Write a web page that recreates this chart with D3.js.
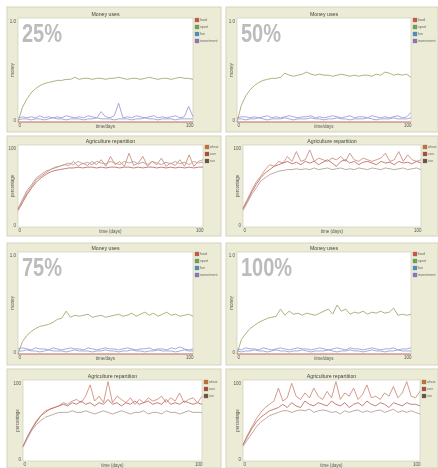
<!DOCTYPE html>
<html><head><meta charset="utf-8">
<script src="https://cdn.jsdelivr.net/npm/d3@7"></script>
<style>
html,body{margin:0;padding:0;background:#fff;}
svg{display:block;filter:blur(0.45px);}
text{font-family:"Liberation Sans",Arial,sans-serif;}
</style></head>
<body>
<svg id="c" width="438" height="468"></svg>
<script>
// ---------- data ----------
const moneyLegend = ["food","sport","fun","investment"];
const agriLegend = ["wheat","corn","rice"];
const moneyTicksY = ["1.0","0"];
const agriTicksY = ["100","0"];
const ticksX = ["0","100"];

const m25_red    = [0,0,0,0,0,0,0,0,0,0,0,0,0,0,0,0,0,0,0,0,0,0,0,0,0,0,0,0,0,0,0,0,0,0,0,0,0,0,0,0,0];
const m25_green  = [0,0.14,0.22,0.28,0.32,0.35,0.37,0.38,0.39,0.4,0.4,0.41,0.41,0.43,0.41,0.42,0.42,0.41,0.42,0.42,0.41,0.42,0.42,0.43,0.42,0.41,0.42,0.42,0.41,0.42,0.43,0.42,0.41,0.42,0.42,0.41,0.42,0.43,0.42,0.42,0.41];
const m25_blue   = [0.02,0.03,0.03,0.02,0.03,0.03,0.02,0.03,0.04,0.03,0.03,0.02,0.03,0.03,0.03,0.02,0.03,0.03,0.04,0.03,0.03,0.03,0.02,0.03,0.03,0.03,0.02,0.03,0.03,0.04,0.03,0.03,0.02,0.03,0.03,0.03,0.02,0.03,0.03,0.03,0.03];
const m25_purple = [0.04,0.05,0.04,0.05,0.04,0.06,0.04,0.05,0.04,0.05,0.04,0.06,0.05,0.04,0.05,0.04,0.06,0.05,0.04,0.1,0.05,0.04,0.06,0.18,0.04,0.05,0.04,0.06,0.05,0.04,0.05,0.06,0.04,0.05,0.04,0.05,0.06,0.04,0.05,0.15,0.05];

const m50_red    = [0,0,0,0,0,0,0,0,0,0,0,0,0,0,0,0,0,0,0,0,0,0,0,0,0,0,0,0,0,0,0,0,0,0,0,0,0,0,0,0,0];
const m50_green  = [0,0.16,0.25,0.31,0.35,0.38,0.4,0.41,0.42,0.42,0.43,0.47,0.45,0.44,0.45,0.46,0.48,0.46,0.45,0.46,0.45,0.45,0.44,0.45,0.46,0.45,0.44,0.45,0.44,0.45,0.45,0.44,0.46,0.45,0.48,0.47,0.45,0.46,0.45,0.46,0.43];
const m50_blue   = [0.03,0.03,0.02,0.03,0.03,0.04,0.03,0.02,0.03,0.03,0.03,0.04,0.03,0.02,0.03,0.03,0.03,0.04,0.03,0.03,0.02,0.03,0.03,0.04,0.03,0.03,0.02,0.03,0.03,0.03,0.04,0.03,0.02,0.03,0.03,0.03,0.04,0.03,0.03,0.03,0.04];
const m50_purple = [0.04,0.05,0.05,0.04,0.05,0.04,0.05,0.06,0.04,0.05,0.04,0.05,0.06,0.05,0.04,0.05,0.05,0.06,0.04,0.05,0.04,0.05,0.06,0.05,0.04,0.05,0.06,0.04,0.05,0.05,0.04,0.06,0.05,0.04,0.05,0.04,0.05,0.06,0.04,0.05,0.09];

const m75_red    = [0,0,0,0,0,0,0,0,0,0,0,0,0,0,0,0,0,0,0,0,0,0,0,0,0,0,0,0,0,0,0,0,0,0,0,0,0,0,0,0,0];
const m75_green  = [0,0.12,0.18,0.22,0.25,0.27,0.28,0.29,0.31,0.34,0.35,0.42,0.36,0.38,0.37,0.38,0.39,0.36,0.37,0.38,0.36,0.37,0.38,0.39,0.37,0.38,0.4,0.37,0.39,0.41,0.38,0.4,0.37,0.39,0.41,0.38,0.39,0.37,0.38,0.39,0.37];
const m75_blue   = [0.03,0.03,0.04,0.03,0.03,0.02,0.03,0.04,0.03,0.03,0.03,0.02,0.03,0.04,0.03,0.03,0.03,0.02,0.03,0.03,0.04,0.03,0.03,0.02,0.03,0.03,0.04,0.03,0.03,0.02,0.03,0.03,0.04,0.03,0.03,0.03,0.02,0.03,0.04,0.03,0.03];
const m75_purple = [0.05,0.06,0.05,0.04,0.06,0.05,0.05,0.04,0.06,0.05,0.04,0.05,0.06,0.05,0.05,0.04,0.06,0.05,0.04,0.05,0.06,0.05,0.05,0.04,0.05,0.06,0.05,0.04,0.05,0.05,0.06,0.04,0.05,0.05,0.04,0.06,0.05,0.07,0.05,0.04,0.05];

const m100_red    = [0,0,0,0,0,0,0,0,0,0,0,0,0,0,0,0,0,0,0,0,0,0,0,0,0,0,0,0,0,0,0,0,0,0,0,0,0,0,0,0,0];
const m100_green  = [0,0.14,0.2,0.25,0.28,0.31,0.33,0.35,0.36,0.37,0.44,0.38,0.42,0.39,0.4,0.38,0.4,0.39,0.38,0.4,0.42,0.44,0.39,0.48,0.42,0.44,0.39,0.41,0.4,0.42,0.39,0.41,0.4,0.42,0.4,0.41,0.45,0.38,0.39,0.38,0.39];
const m100_blue   = [0.03,0.02,0.03,0.03,0.04,0.03,0.03,0.02,0.03,0.04,0.03,0.03,0.02,0.03,0.03,0.04,0.03,0.02,0.03,0.03,0.03,0.04,0.03,0.02,0.03,0.03,0.04,0.03,0.03,0.02,0.03,0.04,0.03,0.03,0.02,0.03,0.03,0.04,0.03,0.03,0.03];
const m100_purple = [0.05,0.04,0.06,0.05,0.05,0.04,0.06,0.05,0.04,0.05,0.06,0.05,0.04,0.05,0.06,0.05,0.05,0.04,0.05,0.06,0.05,0.04,0.05,0.06,0.05,0.04,0.06,0.05,0.05,0.04,0.05,0.06,0.05,0.04,0.05,0.05,0.06,0.04,0.05,0.05,0.06];

const a25_A = [0.22,0.32,0.42,0.5,0.58,0.62,0.66,0.7,0.72,0.74,0.76,0.75,0.8,0.74,0.78,0.75,0.8,0.76,0.82,0.74,0.86,0.76,0.8,0.74,0.9,0.75,0.78,0.86,0.74,0.8,0.76,0.84,0.74,0.78,0.75,0.82,0.74,0.88,0.74,0.8,0.82];
const a25_B = [0.2,0.3,0.4,0.48,0.55,0.6,0.64,0.67,0.69,0.7,0.71,0.72,0.72,0.73,0.72,0.73,0.73,0.72,0.73,0.72,0.73,0.73,0.72,0.73,0.73,0.72,0.73,0.72,0.73,0.73,0.72,0.73,0.72,0.73,0.72,0.73,0.72,0.73,0.72,0.73,0.73];
const a25_C = [0.22,0.34,0.45,0.52,0.6,0.64,0.68,0.7,0.73,0.74,0.76,0.78,0.76,0.8,0.77,0.79,0.76,0.8,0.78,0.77,0.8,0.78,0.76,0.8,0.78,0.8,0.77,0.79,0.76,0.8,0.78,0.76,0.79,0.77,0.8,0.77,0.79,0.76,0.8,0.78,0.79];

const a50_A = [0.23,0.34,0.45,0.55,0.62,0.7,0.76,0.74,0.8,0.78,0.86,0.8,0.92,0.8,0.82,0.94,0.8,0.84,0.82,0.8,0.84,0.82,0.86,0.8,0.9,0.82,0.8,0.84,0.82,0.8,0.82,0.84,0.9,0.8,0.82,0.92,0.8,0.88,0.82,0.8,0.82];
const a50_B = [0.22,0.32,0.43,0.52,0.6,0.66,0.7,0.74,0.76,0.78,0.8,0.77,0.79,0.76,0.8,0.78,0.8,0.76,0.79,0.82,0.78,0.74,0.8,0.82,0.78,0.8,0.76,0.79,0.8,0.78,0.76,0.8,0.78,0.79,0.76,0.8,0.78,0.79,0.77,0.8,0.78];
const a50_C = [0.2,0.3,0.4,0.48,0.56,0.6,0.64,0.66,0.68,0.69,0.7,0.7,0.71,0.7,0.71,0.7,0.72,0.7,0.71,0.72,0.7,0.71,0.72,0.7,0.71,0.7,0.72,0.71,0.7,0.72,0.71,0.7,0.72,0.71,0.7,0.71,0.72,0.7,0.71,0.72,0.7];

const a75_A = [0.18,0.3,0.4,0.5,0.56,0.62,0.64,0.66,0.68,0.72,0.7,0.74,0.76,0.72,0.8,0.94,0.74,0.8,0.72,0.98,0.72,0.8,0.76,0.72,0.78,0.7,0.76,0.72,0.78,0.74,0.76,0.8,0.72,0.78,0.74,0.84,0.72,0.76,0.78,0.72,0.8];
const a75_B = [0.18,0.3,0.4,0.48,0.56,0.6,0.64,0.66,0.68,0.7,0.68,0.72,0.7,0.74,0.7,0.72,0.68,0.72,0.7,0.76,0.7,0.72,0.68,0.72,0.7,0.74,0.7,0.72,0.74,0.7,0.72,0.7,0.76,0.7,0.72,0.7,0.74,0.72,0.7,0.72,0.7];
const a75_C = [0.17,0.28,0.38,0.45,0.5,0.54,0.56,0.58,0.6,0.6,0.6,0.62,0.6,0.6,0.62,0.6,0.58,0.6,0.62,0.6,0.58,0.6,0.62,0.6,0.58,0.6,0.6,0.62,0.58,0.6,0.6,0.58,0.62,0.6,0.6,0.58,0.6,0.62,0.6,0.6,0.6];

const a100_A = [0.2,0.32,0.42,0.52,0.6,0.66,0.7,0.74,0.9,0.74,0.78,0.96,0.8,0.76,0.84,0.78,0.9,0.8,0.76,0.86,0.78,0.98,0.76,0.84,0.8,0.9,0.76,0.82,0.94,0.78,0.8,0.76,0.84,0.8,0.92,0.78,0.84,0.98,0.8,0.78,0.86];
const a100_B = [0.2,0.3,0.4,0.48,0.54,0.58,0.62,0.64,0.66,0.7,0.66,0.72,0.68,0.66,0.74,0.7,0.68,0.72,0.7,0.68,0.74,0.7,0.68,0.72,0.66,0.7,0.72,0.68,0.74,0.7,0.68,0.72,0.7,0.66,0.72,0.7,0.68,0.72,0.7,0.7,0.68];
const a100_C = [0.18,0.26,0.34,0.42,0.48,0.52,0.56,0.58,0.6,0.62,0.62,0.6,0.62,0.63,0.62,0.64,0.6,0.62,0.63,0.62,0.6,0.61,0.58,0.62,0.6,0.62,0.63,0.6,0.62,0.6,0.62,0.63,0.6,0.62,0.64,0.6,0.62,0.6,0.62,0.6,0.58];

// ---------- styling / layout ----------
const moneyColors = ["#d06060","#a4aa72","#88a8d0","#a898d8"];
const moneySwatch = ["#d85040","#6aa84a","#4a90c8","#9070c8"];
const agriColors = ["#d09080","#c07068","#b8a098"];
const agriSwatch = ["#c87030","#b04838","#6a5040"];

const panels = [
  {kind:"money", label:"25%", x:7,   y:7,   w:214, h:125, m:{l:11,r:28,t:11,b:10}, series:[m25_red,m25_green,m25_blue,m25_purple]},
  {kind:"money", label:"50%", x:226, y:7,   w:212, h:125, m:{l:11,r:27,t:11,b:10}, series:[m50_red,m50_green,m50_blue,m50_purple]},
  {kind:"agri",  x:7,   y:136, w:214, h:100, m:{l:11,r:18,t:9,b:9}, series:[a25_A,a25_B,a25_C]},
  {kind:"agri",  x:226, y:136, w:212, h:100, m:{l:17,r:17,t:9,b:9}, series:[a50_A,a50_B,a50_C]},
  {kind:"money", label:"75%", x:7,   y:243, w:214, h:122, m:{l:11,r:28,t:9,b:11}, series:[m75_red,m75_green,m75_blue,m75_purple]},
  {kind:"money", label:"100%",x:226, y:243, w:212, h:122, m:{l:11,r:27,t:9,b:11}, series:[m100_red,m100_green,m100_blue,m100_purple]},
  {kind:"agri",  x:7,   y:369, w:214, h:99, m:{l:16,r:19,t:11,b:7}, series:[a75_A,a75_B,a75_C]},
  {kind:"agri",  x:226, y:369, w:212, h:99, m:{l:17,r:18,t:11,b:7}, series:[a100_A,a100_B,a100_C]}
];

const svg = d3.select("#c");
svg.append("rect").attr("width",438).attr("height",468).attr("fill","#ffffff");

panels.forEach(p => {
  const g = svg.append("g").attr("transform",`translate(${p.x},${p.y})`);
  g.append("rect").attr("width",p.w).attr("height",p.h)
    .attr("fill","#ecebd6").attr("stroke","#d4d3bc").attr("stroke-width",1);
  const pl = p.m.l, pr = p.w - p.m.r, pt = p.m.t, pb = p.h - p.m.b;
  const isMoney = p.kind === "money";
  const n = p.series[0].length;
  const x = d3.scaleLinear().domain([0, n-1]).range([pl, pr]);
  const y = d3.scaleLinear().domain([0, 1]).range([pb, pt]);

  g.append("rect").attr("x",pl).attr("y",pt).attr("width",pr-pl).attr("height",pb-pt)
    .attr("fill","#ffffff").attr("stroke","#c8c8b4").attr("stroke-width",0.6);

  g.append("text").attr("x",(pl+pr)/2).attr("y",pt-2.5).attr("text-anchor","middle")
    .attr("font-size",5.2).attr("fill","#444").text(isMoney ? "Money uses" : "Agriculture repartition");

  const yAx = d3.axisLeft(y).tickValues([0,1]).tickSize(0).tickPadding(2)
    .tickFormat(d => (isMoney ? moneyTicksY : agriTicksY)[d===1?0:1]);
  const ya = g.append("g").attr("transform",`translate(${pl},0)`).call(yAx);
  ya.select(".domain").remove();
  ya.selectAll("text").attr("font-size",4.5).attr("fill","#555").attr("font-family","Liberation Sans, Arial")
    .attr("dy", d => d===1 ? "0.9em" : "-0.1em");

  const xAx = d3.axisBottom(x).tickValues([0,n-1]).tickSize(0).tickPadding(2)
    .tickFormat(d => d===0 ? ticksX[0] : ticksX[1]);
  const xa = g.append("g").attr("transform",`translate(0,${pb})`).call(xAx);
  xa.select(".domain").remove();
  xa.selectAll("text").attr("font-size",4.5).attr("fill","#555").attr("font-family","Liberation Sans, Arial")
    .attr("text-anchor", d => d===0 ? "start" : "end");

  g.append("text").attr("x",(pl+pr)/2).attr("y",pb+6).attr("text-anchor","middle")
    .attr("font-size",4.5).attr("fill","#555").text(isMoney ? "time/days" : "time (days)");
  g.append("text").attr("transform",`translate(${pl-4},${(pt+pb)/2}) rotate(-90)`)
    .attr("text-anchor","middle").attr("font-size",4.5).attr("fill","#555")
    .text(isMoney ? "money" : "percentage");

  if (p.label) {
    g.append("text").attr("transform",`translate(${pl+4},${pt+24}) scale(0.8,1)`)
      .attr("font-family","'Liberation Sans Narrow','Liberation Sans',Arial")
      .attr("font-weight","bold").attr("font-size",25).attr("fill","#bcbcbc").text(p.label);
  }

  const line = d3.line().x((d,i)=>x(i)).y(d=>y(d));
  const colors = isMoney ? moneyColors : agriColors;
  p.series.forEach((s,k) => {
    g.append("path").datum(s).attr("d",line).attr("fill","none")
      .attr("stroke",colors[k]).attr("stroke-width",0.9).attr("stroke-linejoin","round");
  });

  const names = isMoney ? moneyLegend : agriLegend;
  const sw = isMoney ? moneySwatch : agriSwatch;
  const fs = isMoney ? 3.6 : 3.2;
  const lg = g.append("g").attr("transform",`translate(${pr+2},${pt})`);
  names.forEach((nm,k) => {
    lg.append("rect").attr("x",0).attr("y",k*7).attr("width",4).attr("height",4)
      .attr("fill",sw[k]).attr("stroke","#777").attr("stroke-width",0.3);
    lg.append("text").attr("x",5).attr("y",k*7+3.4).attr("font-size",fs).attr("fill","#666").text(nm);
  });
});
</script>
</body></html>
